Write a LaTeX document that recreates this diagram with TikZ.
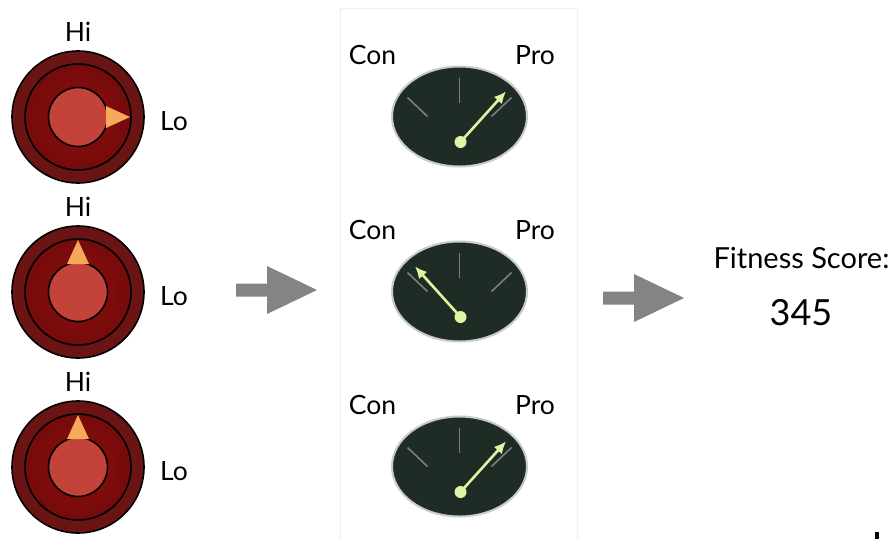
\documentclass[tikz,border=0pt]{standalone}
\usepackage{fontspec}
\setmainfont{Lato}
\usetikzlibrary{shapes.geometric,calc,arrows.meta}
\begin{document}
\begin{tikzpicture}[x=1pt,y=-1pt,
  lbl/.style={font=\fontsize{26.5}{26.5}\selectfont, text=black, inner sep=0pt},
  ringout/.style={draw=black, line width=1.6pt, fill=knobouter},
  ringmid/.style={draw=black, line width=1.6pt, inner color=knobmidc, outer color=knobmid},
  ringin/.style={draw=black, line width=1.6pt, fill=knobinner},
  pointer/.style={fill=pointerorange},
  dial/.style={draw=dialrim, line width=2pt, fill=dialface},
  tick/.style={draw=tickgray, line width=1.6pt},
  needle/.style={draw=needlegreen, line width=2.6pt, -{Latex[length=12pt,width=11pt]}},
  blockarrow/.style={fill=arrowgray}
]
\definecolor{knobouter}{HTML}{6B1414}
\definecolor{knobmid}{HTML}{750B0B}
\definecolor{knobmidc}{HTML}{8E0D0D}
\definecolor{knobinner}{HTML}{C3433A}
\definecolor{pointerorange}{HTML}{F6A95B}
\definecolor{dialface}{HTML}{1F2B25}
\definecolor{dialrim}{HTML}{C9CBC8}
\definecolor{tickgray}{HTML}{7A7F7C}
\definecolor{needlegreen}{HTML}{E2F4A4}
\definecolor{arrowgray}{HTML}{848484}
\definecolor{panelline}{HTML}{EFEFEF}

\path[use as bounding box] (0,0) rectangle (894,539);

% light panel behind the dials
\draw[panelline, line width=0.8pt, fill=white] (340,8) rectangle (577,545);

% three knobs: pointer angle 0 = right (Lo), 90 = up (Hi)
\foreach \k/\cy/\ang in {1/117/0, 2/292/90, 3/467/90}{
  \begin{scope}[shift={(78,\cy)}]
    \node[circle, ringout, minimum size=132pt, inner sep=0pt] (knob\k) at (0,0) {};
    \node[circle, ringmid, minimum size=106pt, inner sep=0pt] (knobring\k) at (0,0) {};
    \node[circle, ringin, minimum size=59pt, inner sep=0pt] (knobcap\k) at (0,0) {};
    \fill[pointer, rotate=\ang] (28,-11) -- (52,0) -- (28,11) -- cycle;
    \node[lbl] (hi\k) at (0,-85) {Hi};
    \node[lbl] (lo\k) at (96,4) {Lo};
  \end{scope}
}

% three dials: needle angle measured from the horizontal
\foreach \g/\cy/\ang in {1/116.5/48, 2/291.5/132, 3/466.5/48}{
  \begin{scope}[shift={(459.5,\cy)}]
    \node[ellipse, dial, minimum width=135pt, minimum height=100pt, inner sep=0pt] (dial\g) at (0,0) {};
    \draw[tick] (0,-39) -- (0,-14);
    \draw[tick] (-52,-19) -- (-32,0);
    \draw[tick] (52,-19) -- (32,0);
    \coordinate (pivot\g) at (1,25.5);
    \coordinate (tip\g) at ($(pivot\g)+(-\ang:68)$);
    \draw[needle] (pivot\g) -- (tip\g);
    \fill[needlegreen] (pivot\g) circle (6);
    \node[lbl] (con\g) at (-87,-61.5) {Con};
    \node[lbl] (pro\g) at (75.5,-61.5) {Pro};
  \end{scope}
}

% block arrows between the stages
\coordinate (arrA) at (236,290);
\coordinate (arrB) at (603,298);
\foreach \a in {arrA,arrB}{
  \fill[blockarrow] ($(\a)+(0,-6.5)$) -- ++(31,0) -- ++(0,-17.5) -- ++(50,24)
     -- ++(-50,24) -- ++(0,-17.5) -- ++(-31,0) -- cycle;
}

% score
\node[font=\fontsize{29}{29}\selectfont, inner sep=0pt] (fitlabel) at (801.5,258) {Fitness Score:};
\node[font=\fontsize{36}{36}\selectfont, inner sep=0pt] (score) at (801,313) {345};

% small mark at the lower right edge
\fill[black] (875,532) rectangle (879,539);
\end{tikzpicture}
\end{document}
